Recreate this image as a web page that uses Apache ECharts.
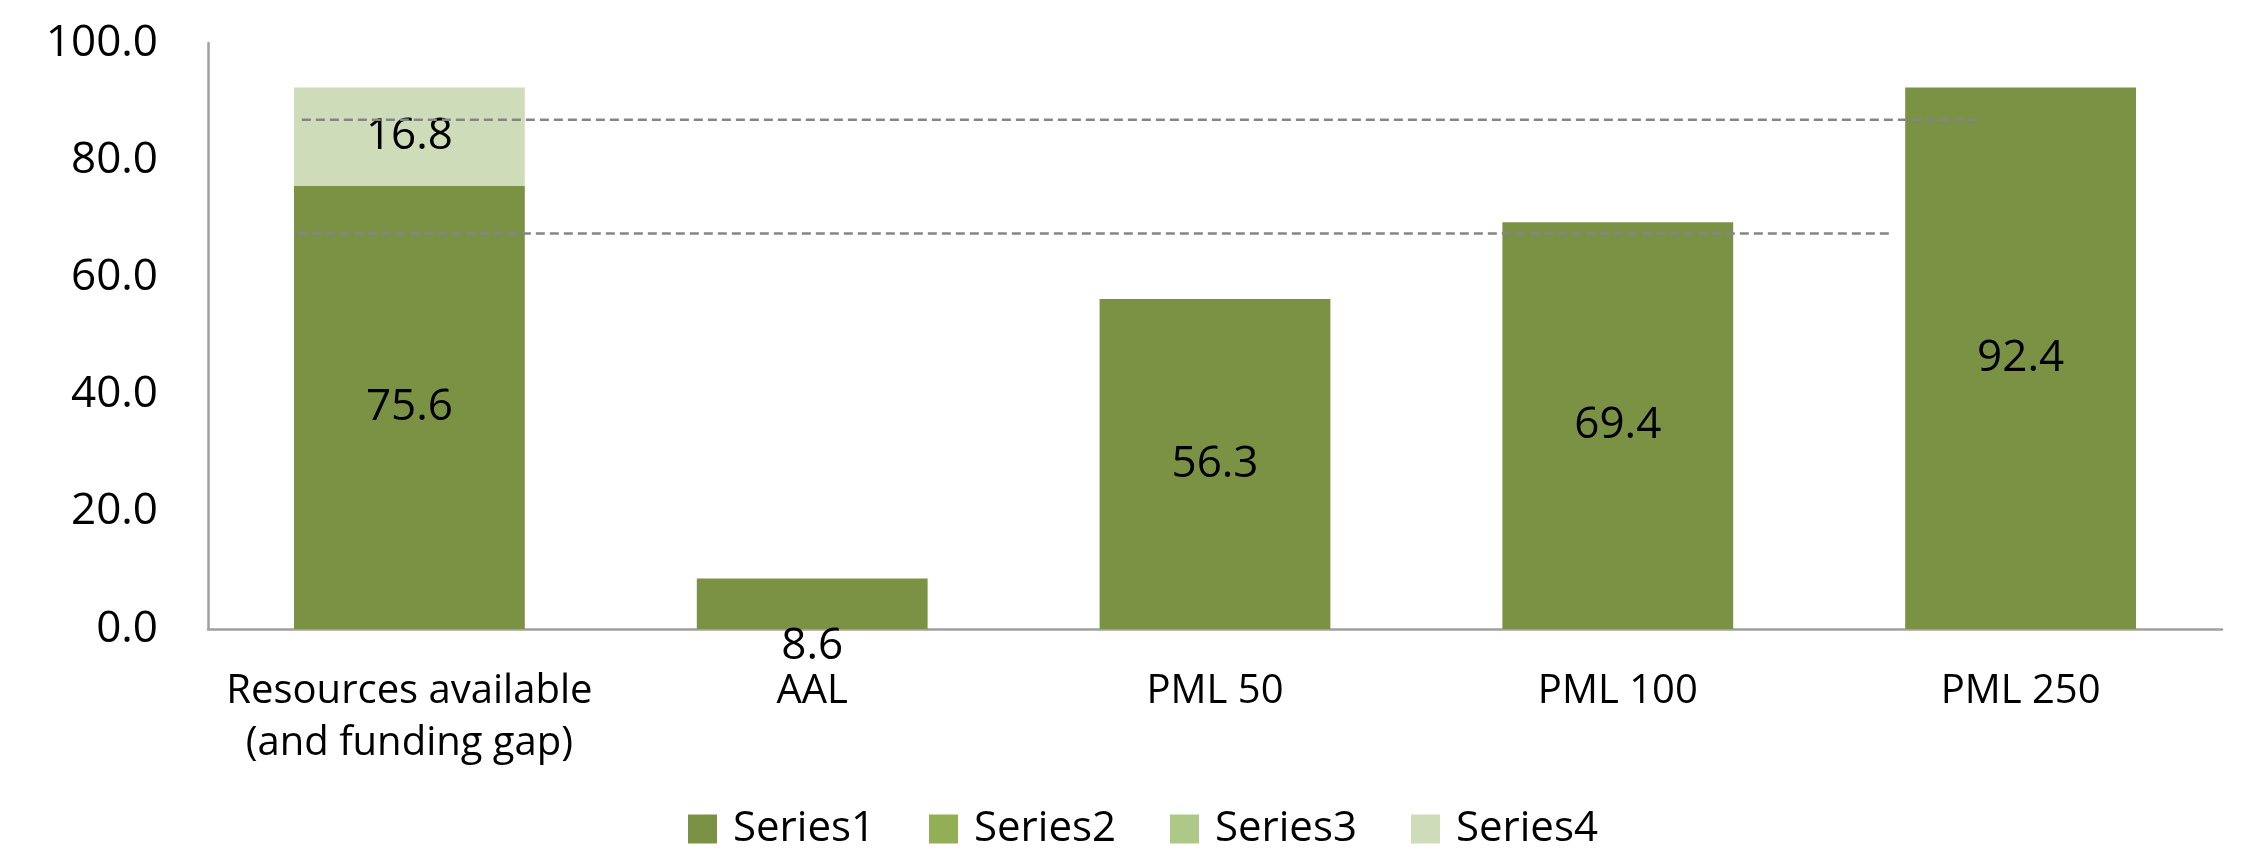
<!DOCTYPE html>
<html>
<head>
<meta charset="utf-8">
<title>Resources available vs. loss metrics</title>
<script src="https://cdn.jsdelivr.net/npm/echarts@6/dist/echarts.min.js"></script>
<style>
  html, body { margin: 0; padding: 0; background: #ffffff; }
  #chart { width: 2243px; height: 853px; }
</style>
</head>
<body>
<div id="chart"></div>
<script>
// Categories along the x axis
const categories = ['Resources available\n(and funding gap)', 'AAL', 'PML 50', 'PML 100', 'PML 250'];

// Stacked bar values
const series1 = [75.6, 8.6, 56.3, 69.4, 92.4];
const series2 = [null, null, null, null, null];
const series3 = [null, null, null, null, null];
const series4 = [16.8, null, null, null, null];

const seriesNames = ['Series1', 'Series2', 'Series3', 'Series4'];

// Y axis range and tick step
const yMin = 0;
const yMax = 100;
const yStep = 20;

// Dashed reference lines: [x in category units, value]
const upperRefLine = [[0.233, 86.9], [4.389, 86.9]];
const lowerRefLine = [[0.223, 67.5], [4.173, 67.5]];

const colors = ['#7B9244', '#93AF56', '#AEC887', '#CFDCB9'];
const FONT = '"Open Sans", "Noto Sans", sans-serif';

const chart = echarts.init(document.getElementById('chart'), null, { renderer: 'canvas' });

const valueLabel = {
  show: true,
  position: 'inside',
  color: '#000000',
  fontFamily: FONT,
  fontSize: 44,
  formatter: p => (p.value == null ? '' : Number(p.value).toFixed(1))
};

// The short AAL bar carries its label lower, sitting on the axis
function withLabelShift(data, idx, dy) {
  return data.map((v, i) => (i === idx ? { value: v, label: { offset: [0, dy] } } : v));
}

const seriesData = [withLabelShift(series1, 1, 43), series2, series3, series4];

const barSeries = seriesData.map((d, i) => ({
  name: seriesNames[i],
  type: 'bar',
  stack: 'total',
  data: d,
  barCategoryGap: '42.7%',
  itemStyle: { color: colors[i] },
  label: valueLabel,
  z: 2
}));

const dashedLine = data => ({
  type: 'line',
  xAxisIndex: 1,
  yAxisIndex: 0,
  data: data,
  symbol: 'none',
  silent: true,
  lineStyle: { color: '#858585', width: 2.5, type: [9, 5] },
  z: 5
});

chart.setOption({
  animation: false,
  backgroundColor: '#ffffff',
  color: colors,
  grid: { left: 208, right: 21, top: 43, bottom: 224, containLabel: false },
  legend: {
    data: seriesNames,
    left: 683,
    top: 803,
    icon: 'rect',
    itemWidth: 29,
    itemHeight: 29,
    itemGap: 54,
    textStyle: {
      color: '#000000',
      fontFamily: FONT,
      fontSize: 42,
      padding: [0, 0, 0, 11]
    }
  },
  xAxis: [
    {
      type: 'category',
      data: categories,
      axisLine: { show: true, lineStyle: { color: '#A0A0A0', width: 2.5 } },
      axisTick: { show: false },
      axisLabel: {
        interval: 0,
        margin: 37,
        color: '#000000',
        fontFamily: FONT,
        fontSize: 40,
        lineHeight: 52,
        align: 'center'
      },
      splitLine: { show: false }
    },
    {
      type: 'value',
      min: 0,
      max: categories.length,
      show: false,
      splitLine: { show: false }
    }
  ],
  yAxis: {
    type: 'value',
    min: yMin,
    max: yMax,
    interval: yStep,
    axisLine: { show: true, lineStyle: { color: '#A0A0A0', width: 2.5 } },
    axisTick: { show: false },
    splitLine: { show: false },
    axisLabel: {
      margin: 50,
      color: '#000000',
      fontFamily: FONT,
      fontSize: 44,
      formatter: v => v.toFixed(1)
    }
  },
  series: barSeries.concat([dashedLine(upperRefLine), dashedLine(lowerRefLine)])
});
</script>
</body>
</html>
